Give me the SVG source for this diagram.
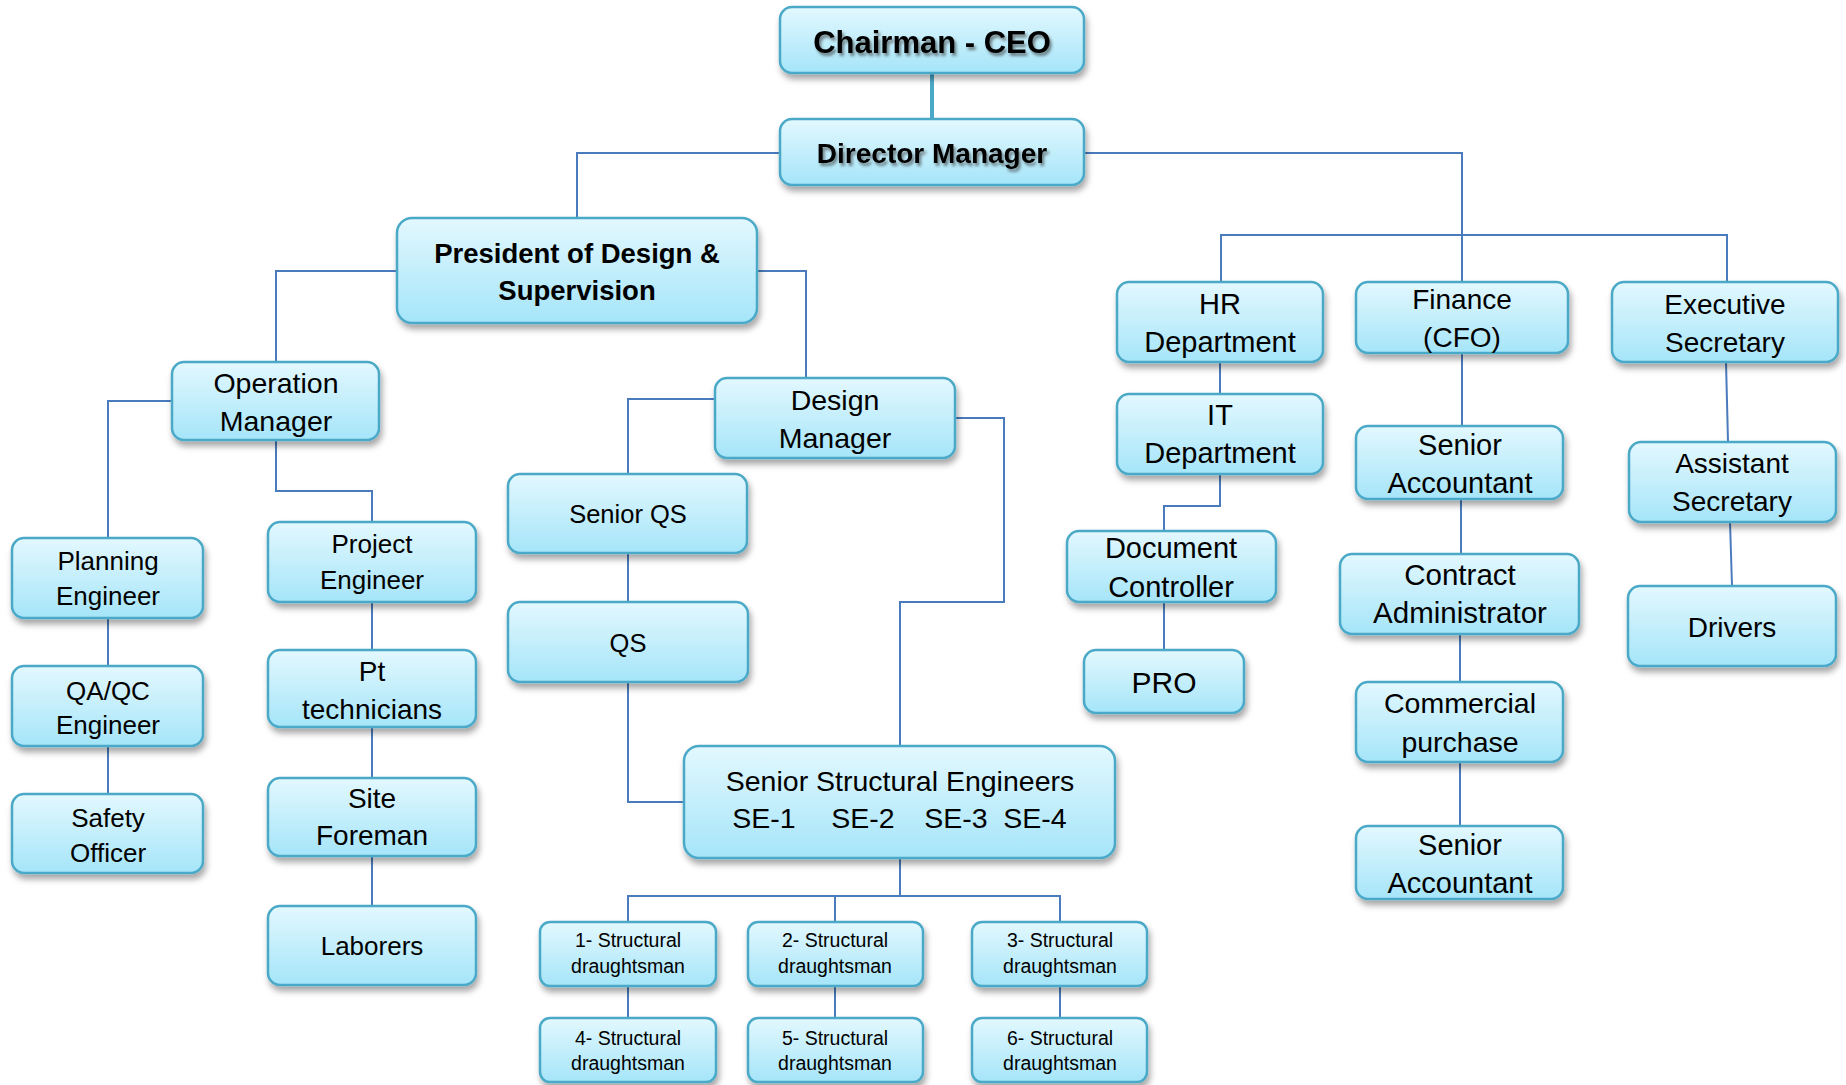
<svg xmlns="http://www.w3.org/2000/svg" width="1846" height="1085" viewBox="0 0 1846 1085">
<defs>
<linearGradient id="g" x1="0" y1="0" x2="0" y2="1">
<stop offset="0" stop-color="#E3F8FE"/>
<stop offset="1" stop-color="#A5E5F9"/>
</linearGradient>
<filter id="sh" x="-10%" y="-10%" width="125%" height="135%">
<feDropShadow dx="2" dy="5" stdDeviation="3" flood-color="#000" flood-opacity="0.35"/>
</filter>
<filter id="ts" x="-5%" y="-20%" width="115%" height="160%">
<feDropShadow dx="2" dy="3" stdDeviation="1.6" flood-color="#333" flood-opacity="0.6"/>
</filter>
</defs>
<style>
rect.b{fill:url(#g);stroke:#4BA9C8;stroke-width:2.5;filter:url(#sh)}
text{font-family:"Liberation Sans",Arial,sans-serif;fill:#000;text-anchor:middle}
.bd{font-weight:bold}
.c path{fill:none;stroke:#4A7BBC;stroke-width:2}
.c path.t{stroke:#4BA9C8;stroke-width:4}
</style>
<g class="c" id="connectors">
<path class="t" d="M932 73V119"/>
<path d="M780 153H577V218"/>
<path d="M1084 153H1462V282"/>
<path d="M1221 282V235H1727V282"/>
<path d="M397 271H276V362"/>
<path d="M757 271H806V378"/>
<path d="M172 401H108V538"/>
<path d="M108 618V666"/>
<path d="M108 746V794"/>
<path d="M276 440V491H372V522"/>
<path d="M372 602V650"/>
<path d="M372 727V778"/>
<path d="M372 856V906"/>
<path d="M715 399H628V474"/>
<path d="M628 553V602"/>
<path d="M628 682V802H684"/>
<path d="M955 418H1004V602H900V746"/>
<path d="M900 858V896"/>
<path d="M628 922V896H1060V922"/>
<path d="M835 896V922"/>
<path d="M628 986V1018"/>
<path d="M835 986V1018"/>
<path d="M1060 986V1018"/>
<path d="M1220 362V394"/>
<path d="M1220 474V506H1164V531"/>
<path d="M1164 602V650"/>
<path d="M1462 353V426"/>
<path d="M1461 499V554"/>
<path d="M1460 634V682"/>
<path d="M1460 762V826"/>
<path d="M1726 362L1728 442"/>
<path d="M1730 522L1732 586"/>
</g>
<g id="ceo"><rect class="b" x="780" y="7" width="304" height="66" rx="12"/><text class="bd" x="932" y="53" font-size="31" filter="url(#ts)">Chairman - CEO</text></g>
<g id="director"><rect class="b" x="780" y="119" width="304" height="66" rx="12"/><text class="bd" x="932" y="163" font-size="28" filter="url(#ts)">Director Manager</text></g>
<g id="president"><rect class="b" x="397" y="218" width="360" height="105" rx="15"/><text class="bd" x="577" y="263" font-size="27.5">President of Design &amp;</text><text class="bd" x="577" y="300" font-size="27.5">Supervision</text></g>
<g id="operation"><rect class="b" x="172" y="362" width="207" height="78" rx="12"/><text x="276" y="393" font-size="28.5">Operation</text><text x="276" y="431" font-size="28.5">Manager</text></g>
<g id="design"><rect class="b" x="715" y="378" width="240" height="80" rx="12"/><text x="835" y="410" font-size="28.5">Design</text><text x="835" y="448" font-size="28.5">Manager</text></g>
<g id="seniorqs"><rect class="b" x="508" y="474" width="239" height="79" rx="12"/><text x="628" y="523" font-size="25.5">Senior QS</text></g>
<g id="qs"><rect class="b" x="508" y="602" width="240" height="80" rx="12"/><text x="628" y="652" font-size="25.5">QS</text></g>
<g id="sse"><rect class="b" x="684" y="746" width="431" height="112" rx="15"/><text x="900" y="791" font-size="28.5">Senior Structural Engineers</text><text x="764" y="828" font-size="28.5">SE-1</text><text x="863" y="828" font-size="28.5">SE-2</text><text x="956" y="828" font-size="28.5">SE-3</text><text x="1035" y="828" font-size="28.5">SE-4</text></g>
<g id="d1"><rect class="b" x="540" y="922" width="176" height="64" rx="10"/><text x="628" y="947" font-size="19.5">1- Structural</text><text x="628" y="973" font-size="19.5">draughtsman</text></g>
<g id="d2"><rect class="b" x="748" y="922" width="175" height="64" rx="10"/><text x="835" y="947" font-size="19.5">2- Structural</text><text x="835" y="973" font-size="19.5">draughtsman</text></g>
<g id="d3"><rect class="b" x="972" y="922" width="175" height="64" rx="10"/><text x="1060" y="947" font-size="19.5">3- Structural</text><text x="1060" y="973" font-size="19.5">draughtsman</text></g>
<g id="d4"><rect class="b" x="540" y="1018" width="176" height="64" rx="10"/><text x="628" y="1045" font-size="19.5">4- Structural</text><text x="628" y="1070" font-size="19.5">draughtsman</text></g>
<g id="d5"><rect class="b" x="748" y="1018" width="175" height="64" rx="10"/><text x="835" y="1045" font-size="19.5">5- Structural</text><text x="835" y="1070" font-size="19.5">draughtsman</text></g>
<g id="d6"><rect class="b" x="972" y="1018" width="175" height="64" rx="10"/><text x="1060" y="1045" font-size="19.5">6- Structural</text><text x="1060" y="1070" font-size="19.5">draughtsman</text></g>
<g id="planning"><rect class="b" x="12" y="538" width="191" height="80" rx="12"/><text x="108" y="570" font-size="26">Planning</text><text x="108" y="605" font-size="26">Engineer</text></g>
<g id="qaqc"><rect class="b" x="12" y="666" width="191" height="80" rx="12"/><text x="108" y="700" font-size="26">QA/QC</text><text x="108" y="734" font-size="26">Engineer</text></g>
<g id="safety"><rect class="b" x="12" y="794" width="191" height="79" rx="12"/><text x="108" y="827" font-size="26">Safety</text><text x="108" y="862" font-size="26">Officer</text></g>
<g id="project"><rect class="b" x="268" y="522" width="208" height="80" rx="12"/><text x="372" y="553" font-size="26">Project</text><text x="372" y="589" font-size="26">Engineer</text></g>
<g id="pt"><rect class="b" x="268" y="650" width="208" height="77" rx="12"/><text x="372" y="681" font-size="28">Pt</text><text x="372" y="719" font-size="28">technicians</text></g>
<g id="site"><rect class="b" x="268" y="778" width="208" height="78" rx="12"/><text x="372" y="808" font-size="28">Site</text><text x="372" y="845" font-size="28">Foreman</text></g>
<g id="laborers"><rect class="b" x="268" y="906" width="208" height="79" rx="12"/><text x="372" y="955" font-size="26">Laborers</text></g>
<g id="hr"><rect class="b" x="1117" y="282" width="206" height="80" rx="12"/><text x="1220" y="314" font-size="29">HR</text><text x="1220" y="352" font-size="29">Department</text></g>
<g id="finance"><rect class="b" x="1356" y="282" width="212" height="71" rx="12"/><text x="1462" y="309" font-size="28">Finance</text><text x="1462" y="347" font-size="28">(CFO)</text></g>
<g id="executive"><rect class="b" x="1612" y="282" width="226" height="80" rx="12"/><text x="1725" y="314" font-size="28">Executive</text><text x="1725" y="352" font-size="28">Secretary</text></g>
<g id="it"><rect class="b" x="1117" y="394" width="206" height="80" rx="12"/><text x="1220" y="425" font-size="29">IT</text><text x="1220" y="463" font-size="29">Department</text></g>
<g id="senioracc1"><rect class="b" x="1356" y="426" width="207" height="73" rx="12"/><text x="1460" y="455" font-size="29">Senior</text><text x="1460" y="493" font-size="29">Accountant</text></g>
<g id="assistant"><rect class="b" x="1629" y="442" width="207" height="80" rx="12"/><text x="1732" y="473" font-size="28">Assistant</text><text x="1732" y="511" font-size="28">Secretary</text></g>
<g id="doc"><rect class="b" x="1067" y="531" width="209" height="71" rx="12"/><text x="1171" y="558" font-size="29">Document</text><text x="1171" y="597" font-size="29">Controller</text></g>
<g id="pro"><rect class="b" x="1084" y="650" width="160" height="63" rx="12"/><text x="1164" y="693" font-size="30">PRO</text></g>
<g id="contract"><rect class="b" x="1340" y="554" width="239" height="80" rx="12"/><text x="1460" y="585" font-size="29.5">Contract</text><text x="1460" y="623" font-size="29.5">Administrator</text></g>
<g id="commercial"><rect class="b" x="1356" y="682" width="207" height="80" rx="12"/><text x="1460" y="713" font-size="28.5">Commercial</text><text x="1460" y="752" font-size="28.5">purchase</text></g>
<g id="senioracc2"><rect class="b" x="1356" y="826" width="207" height="73" rx="12"/><text x="1460" y="855" font-size="29">Senior</text><text x="1460" y="893" font-size="29">Accountant</text></g>
<g id="drivers"><rect class="b" x="1628" y="586" width="208" height="80" rx="12"/><text x="1732" y="637" font-size="28">Drivers</text></g>
</svg>
